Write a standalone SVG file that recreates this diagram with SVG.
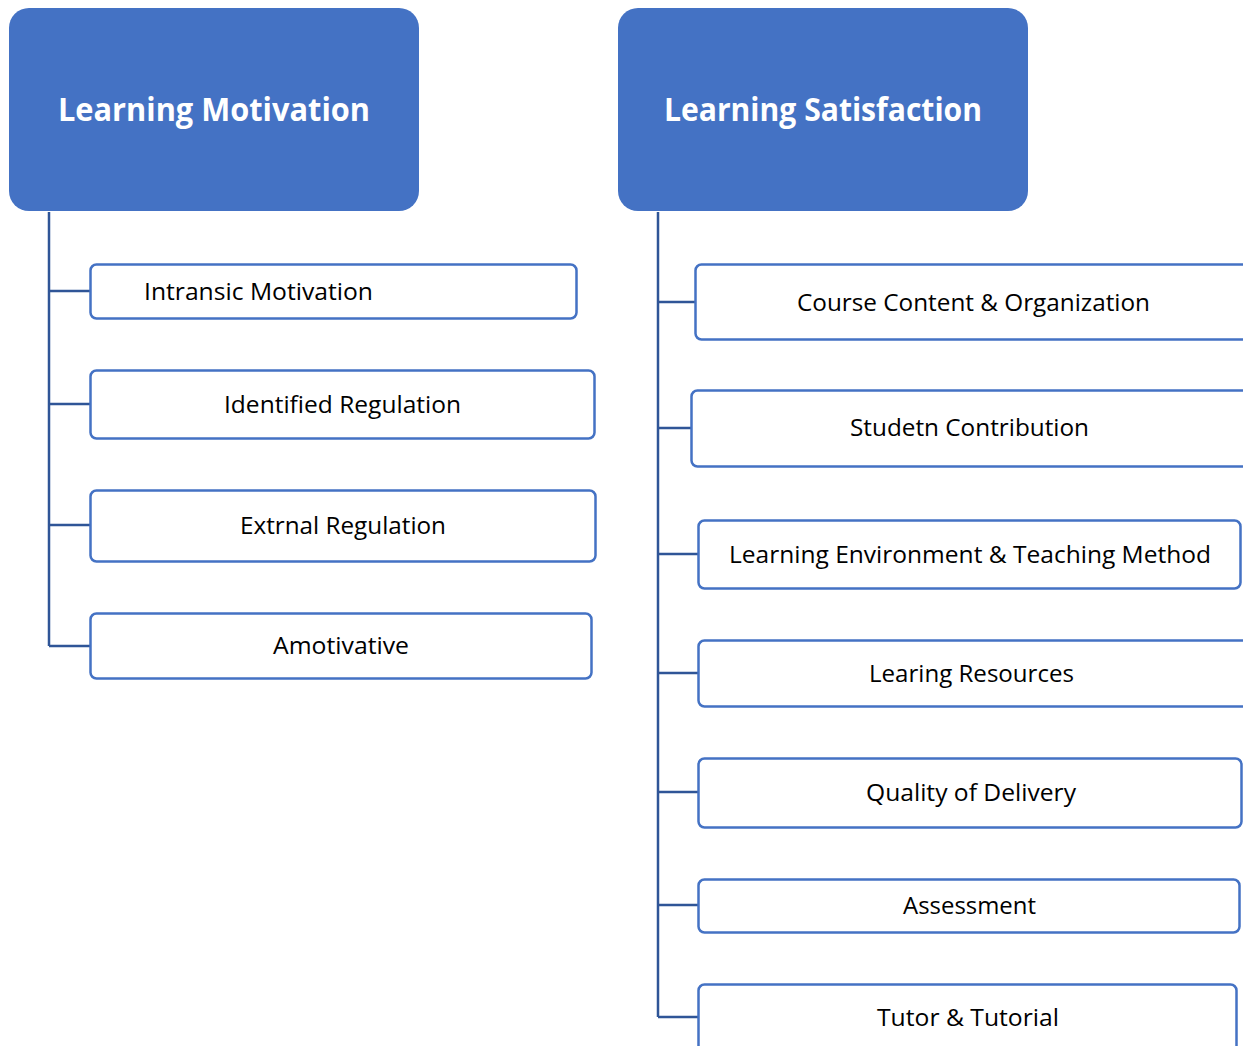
<svg xmlns="http://www.w3.org/2000/svg" width="1243" height="1046" viewBox="0 0 1243 1046">
<style>
.head{fill:#4472C4;}
.ht{fill:#ffffff;font-family:"Open Sans","Noto Sans",sans-serif;font-weight:bold;font-size:32px;}
.box{fill:#ffffff;stroke:#4472C4;stroke-width:2.5;}
.bt{fill:#000000;font-family:"Open Sans","Noto Sans",sans-serif;font-size:23px;}
.c{fill:none;stroke:#2F5597;stroke-width:2.5;}
</style>
<rect width="1243" height="1046" fill="#ffffff"/>
<g id="connectors">
<path class="c" d="M49 212 V646 M49 291 H90 M49 404 H90 M49 525 H90 M49 646 H90"/>
<path class="c" d="M658 212 V1017 M658 302 H695 M658 428 H691 M658 554 H698 M658 673 H698 M658 792 H698 M658 905 H698 M658 1017 H698"/>
</g>
<g id="learning-motivation">
<rect class="head" x="9" y="8" width="410" height="203" rx="20"/>
<text class="ht" x="58" y="121" textLength="312" lengthAdjust="spacingAndGlyphs">Learning Motivation</text>
</g>
<g id="learning-satisfaction">
<rect class="head" x="618" y="8" width="410" height="203" rx="20"/>
<text class="ht" x="664" y="121" textLength="318" lengthAdjust="spacingAndGlyphs">Learning Satisfaction</text>
</g>
<g id="intransic">
<rect class="box" x="90.5" y="264.5" width="486" height="54" rx="6"/>
<text class="bt" x="144" y="300" textLength="229" lengthAdjust="spacingAndGlyphs">Intransic Motivation</text>
</g>
<g id="identified">
<rect class="box" x="90.5" y="370.5" width="504" height="68" rx="6"/>
<text class="bt" x="224" y="413" textLength="237" lengthAdjust="spacingAndGlyphs">Identified Regulation</text>
</g>
<g id="extrnal">
<rect class="box" x="90.5" y="490.5" width="505" height="71" rx="6"/>
<text class="bt" x="240" y="534" textLength="206" lengthAdjust="spacingAndGlyphs">Extrnal Regulation</text>
</g>
<g id="amotivative">
<rect class="box" x="90.5" y="613.5" width="501" height="65" rx="6"/>
<text class="bt" x="273" y="654" textLength="136" lengthAdjust="spacingAndGlyphs">Amotivative</text>
</g>
<g id="course-content">
<rect class="box" x="695.5" y="264.5" width="560" height="75" rx="6"/>
<text class="bt" x="797" y="311" textLength="353" lengthAdjust="spacingAndGlyphs">Course Content &amp; Organization</text>
</g>
<g id="studetn">
<rect class="box" x="691.5" y="390.5" width="564" height="76" rx="6"/>
<text class="bt" x="850" y="436" textLength="239" lengthAdjust="spacingAndGlyphs">Studetn Contribution</text>
</g>
<g id="environment">
<rect class="box" x="698.5" y="520.5" width="542" height="68" rx="6"/>
<text class="bt" x="729" y="563" textLength="482" lengthAdjust="spacingAndGlyphs">Learning Environment &amp; Teaching Method</text>
</g>
<g id="resources">
<rect class="box" x="698.5" y="640.5" width="557" height="66" rx="6"/>
<text class="bt" x="869" y="682" textLength="205" lengthAdjust="spacingAndGlyphs">Learing Resources</text>
</g>
<g id="quality">
<rect class="box" x="698.5" y="758.5" width="543" height="69" rx="6"/>
<text class="bt" x="866" y="801" textLength="210" lengthAdjust="spacingAndGlyphs">Quality of Delivery</text>
</g>
<g id="assessment">
<rect class="box" x="698.5" y="879.5" width="541" height="53" rx="6"/>
<text class="bt" x="903" y="914" textLength="133" lengthAdjust="spacingAndGlyphs">Assessment</text>
</g>
<g id="tutor">
<rect class="box" x="698.5" y="984.5" width="538" height="80" rx="6"/>
<text class="bt" x="877" y="1026" textLength="182" lengthAdjust="spacingAndGlyphs">Tutor &amp; Tutorial</text>
</g>
</svg>
